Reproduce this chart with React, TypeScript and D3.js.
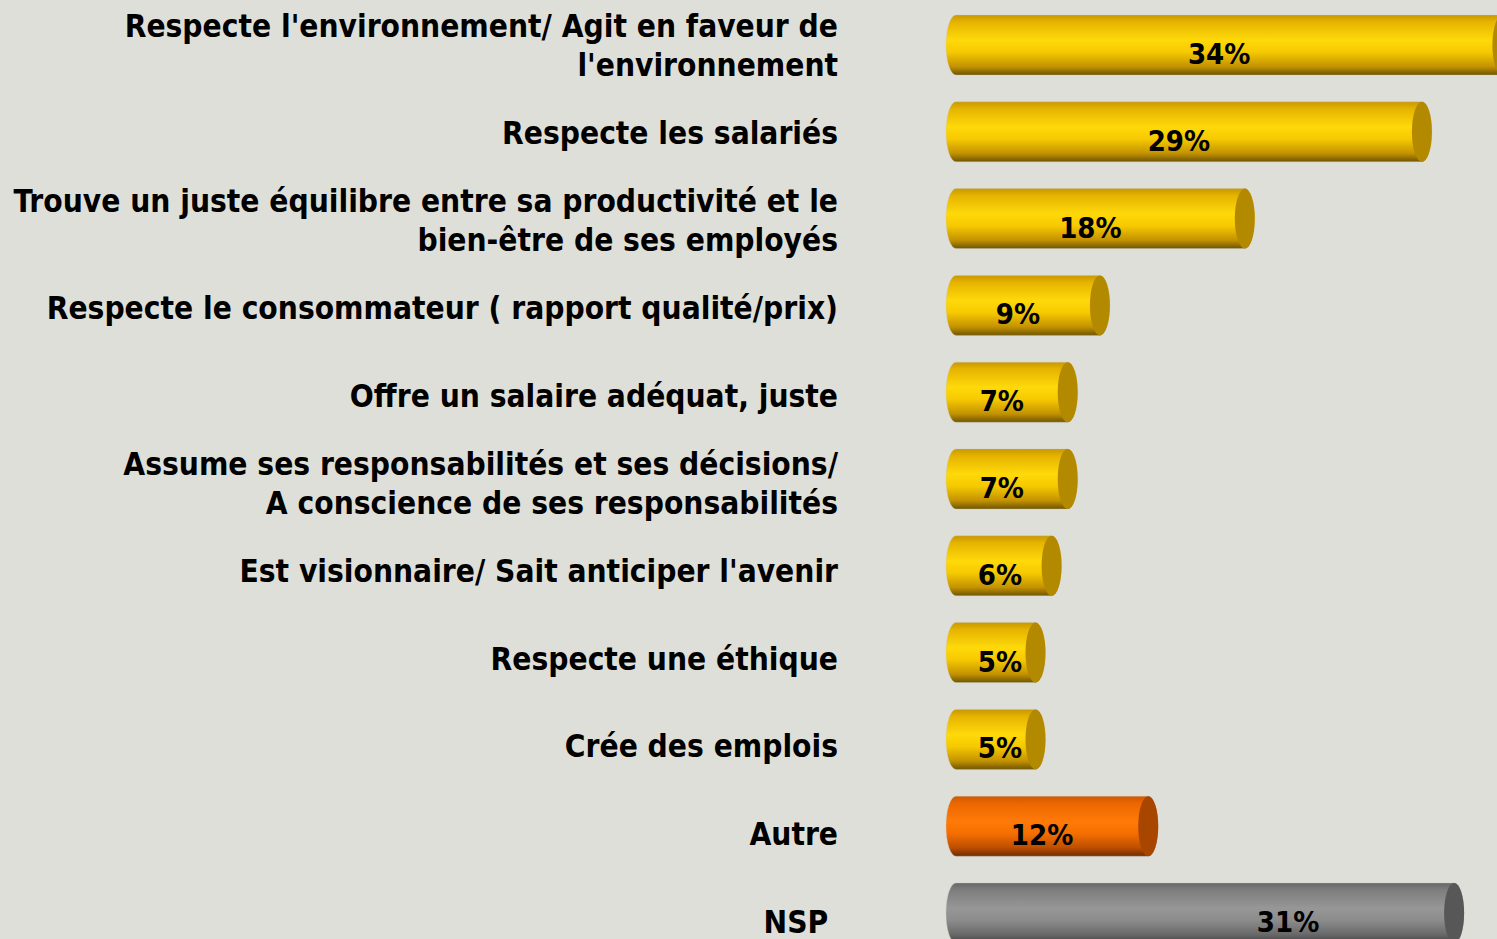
import React from "react";
import { scaleBand, scaleLinear, scalePoint } from "d3";

const categories = [
  "Respecte l'environnement/ Agit en faveur de\nl'environnement",
  "Respecte les salariés",
  "Trouve un juste équilibre entre sa productivité et le\nbien-être de ses employés",
  "Respecte le consommateur ( rapport qualité/prix)",
  "Offre un salaire adéquat, juste",
  "Assume ses responsabilités et ses décisions/\nA conscience de ses responsabilités",
  "Est visionnaire/ Sait anticiper l'avenir",
  "Respecte une éthique",
  "Crée des emplois",
  "Autre",
  "NSP",
];
const values = [34, 29, 18, 9, 7, 7, 6, 5, 5, 12, 31];
const kinds = ["item", "item", "item", "item", "item", "item", "item", "item", "item", "other", "dk"];

const W = 1497;
const H = 939;
const FONT = "'DejaVu Sans Condensed', 'DejaVu Sans', sans-serif";

const palette: Record<string, { stops: [number, string][]; cap: string }> = {
  item: {
    stops: [[0, "#c99800"], [0.12, "#e6b400"], [0.42, "#ffd90a"], [0.62, "#f6c900"], [0.86, "#c39200"], [1, "#6f5500"]],
    cap: "#b38900",
  },
  other: {
    stops: [[0, "#cf5700"], [0.12, "#ec6700"], [0.42, "#ff7a08"], [0.62, "#f56f00"], [0.86, "#bd4e00"], [1, "#6c2d00"]],
    cap: "#a84600",
  },
  dk: {
    stops: [[0, "#686868"], [0.12, "#7e7e7e"], [0.42, "#979797"], [0.62, "#8c8c8c"], [0.86, "#686868"], [1, "#454545"]],
    cap: "#575757",
  },
};

export default function App() {
  const x0 = 946;
  const rx = 10;
  const x = scaleLinear().domain([0, 100]).range([965, 965 + 1610]);
  const y = scaleBand().domain(categories).range([15, 943]).paddingInner(0.309).paddingOuter(0);
  const yLabel = scalePoint().domain(categories).range([45, 921]);
  const bw = y.bandwidth();
  const ry = bw / 2;

  return (
    <svg
      width={W}
      height={H}
      style={{ position: "fixed", left: 0, top: 0, background: "#dfdfd9" }}
      fontFamily={FONT}
      fontWeight="bold"
    >
      <defs>
        {Object.entries(palette).map(([k, p]) => (
          <linearGradient key={k} id={`g-${k}`} x1="0" y1="0" x2="0" y2="1">
            {p.stops.map(([o, c], i) => (
              <stop key={i} offset={o} stopColor={c} />
            ))}
          </linearGradient>
        ))}
      </defs>
      <rect width={W} height={H} fill="#dfdfd9" />

      {categories.map((c, i) => {
        const top = y(c)!;
        const xe = x(values[i]);
        const cx = xe - rx;
        const d = `M${x0 + rx},${top} L${cx},${top} A${rx},${ry} 0 0 1 ${cx},${top + bw} L${x0 + rx},${top + bw} A${rx},${ry} 0 0 1 ${x0 + rx},${top} Z`;
        const isLast = i === categories.length - 1;
        // small bars: label sits a bit further right, like the original
        const lx = isLast ? xe - 176 : Math.max((x0 + cx) / 2 - 5, 1000);
        return (
          <g key={c}>
            <path d={d} fill={`url(#g-${kinds[i]})`} stroke="#c8c8bc" strokeWidth={0.6} strokeOpacity={0.6} />
            <ellipse cx={cx} cy={top + ry} rx={rx} ry={ry} fill={palette[kinds[i]].cap} />
            <text x={lx} y={top + ry + 19} textAnchor="middle" fontSize={29} fill="#000">
              {`${values[i]}%`}
            </text>
          </g>
        );
      })}

      {categories.map((c) => {
        const lines = c.split("\n");
        const cy = yLabel(c)!;
        const lh = 38.5;
        const label = c === "NSP" ? "NSP\u00a0" : null;
        return (
          <text key={c} textAnchor="end" fontSize={31.4} fill="#000">
            {lines.map((l, j) => (
              <tspan key={j} x={838} y={cy + (j - (lines.length - 1) / 2) * lh + 11.5}>
                {label ?? l}
              </tspan>
            ))}
          </text>
        );
      })}
    </svg>
  );
}
